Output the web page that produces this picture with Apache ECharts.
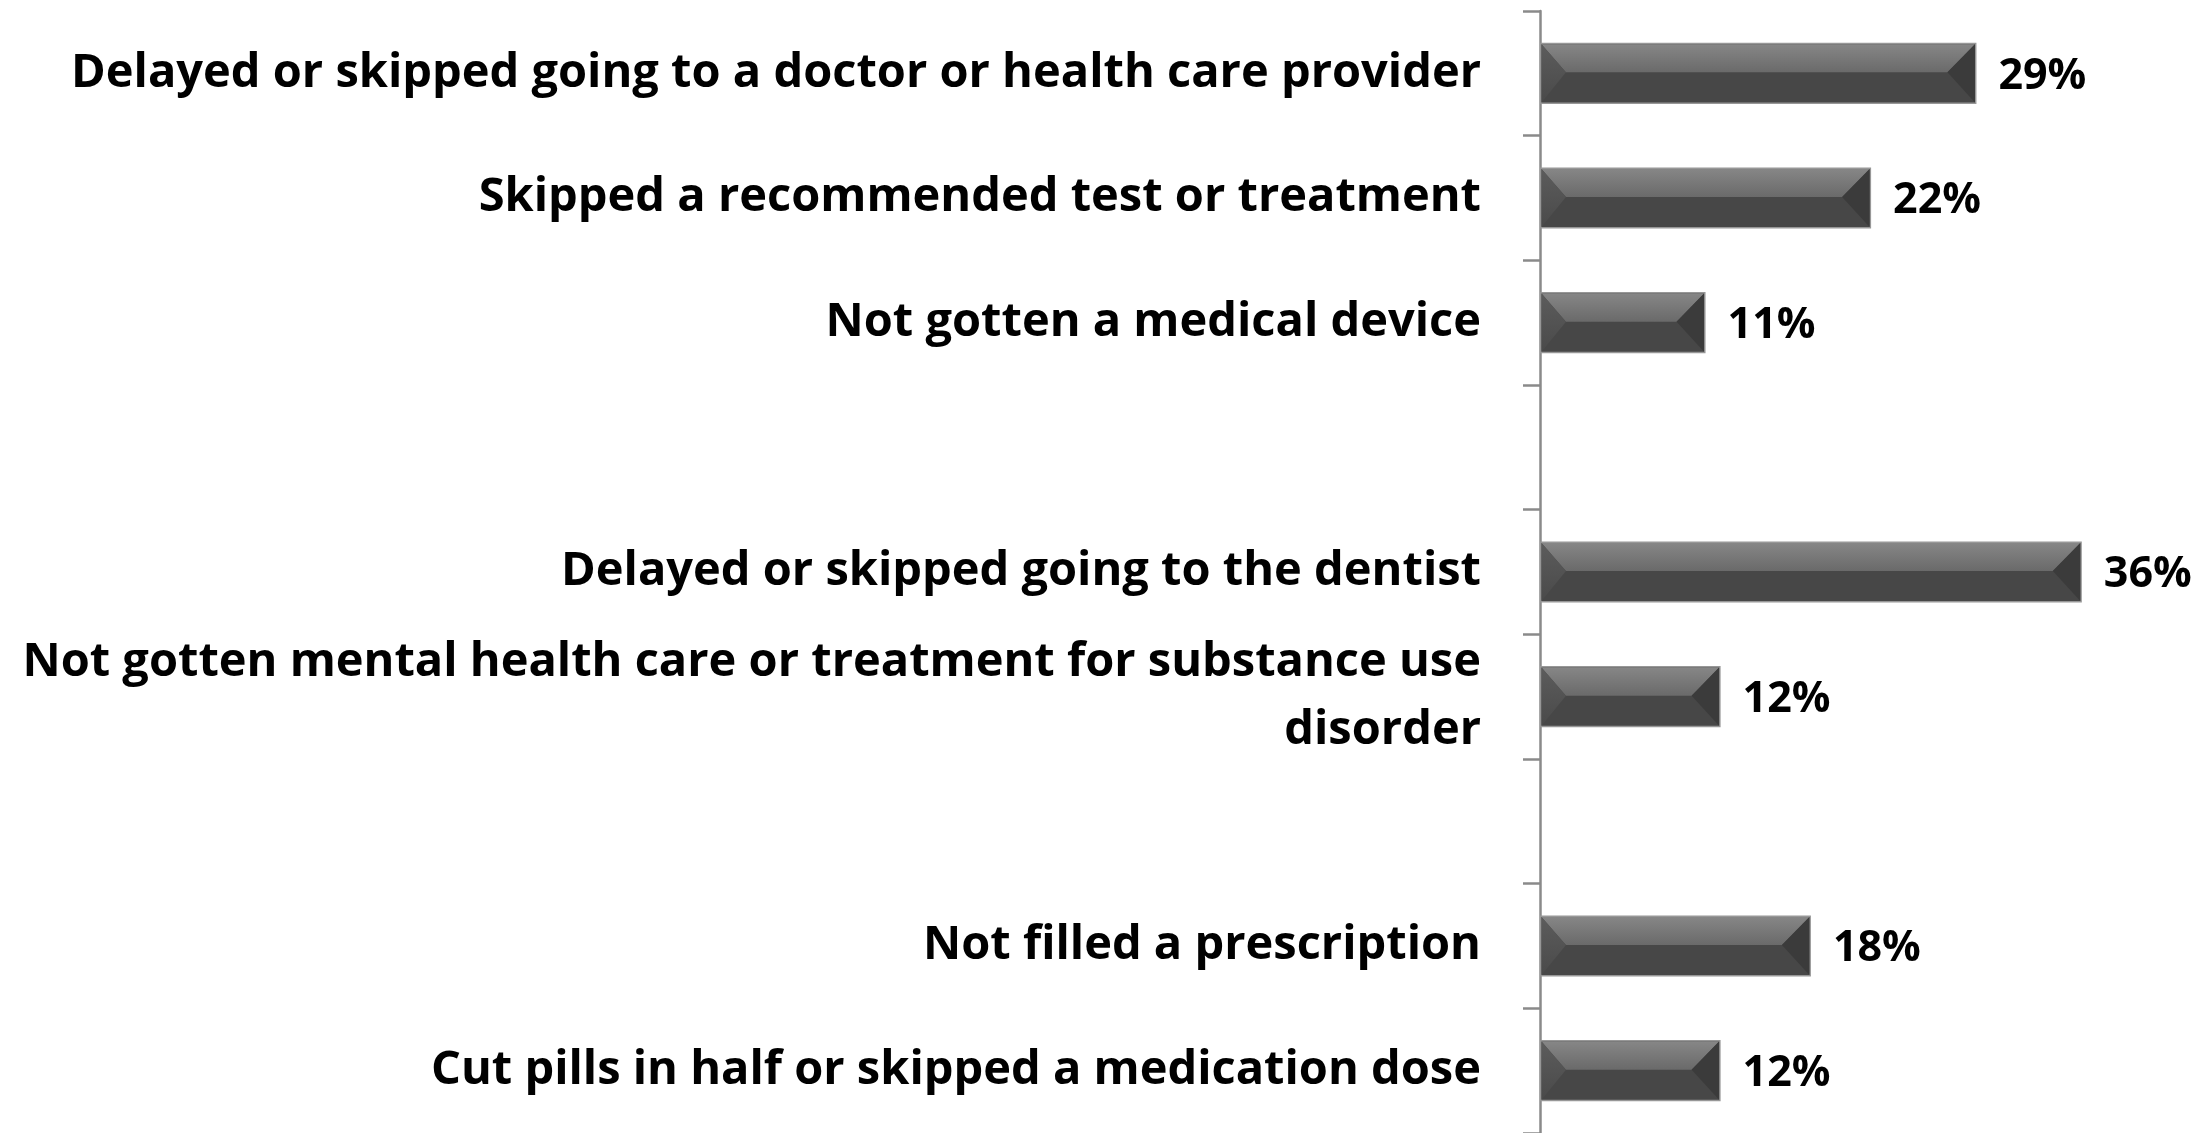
<!DOCTYPE html>
<html>
<head>
<meta charset="utf-8">
<script src="https://cdn.jsdelivr.net/npm/echarts@6/dist/echarts.min.js"></script>
<style>
  html, body { margin: 0; padding: 0; background: #ffffff; }
  #chart { width: 2201px; height: 1133px; }
</style>
</head>
<body>
<div id="chart"></div>
<script>
const categories = [
  'Delayed or skipped going to a doctor or health care provider',
  'Skipped a recommended test or treatment',
  'Not gotten a medical device',
  '',
  'Delayed or skipped going to the dentist',
  'Not gotten mental health care or treatment for substance use\ndisorder',
  '',
  'Not filled a prescription',
  'Cut pills in half or skipped a medication dose'
];
const values = [29, 22, 11, null, 36, 12, null, 18, 12];

const FONT = '"Open Sans", Lato, sans-serif';
const chart = echarts.init(document.getElementById('chart'), null, { renderer: 'canvas' });

const barData = values.map(v => (v == null ? '-' : v));
const bevelData = values.map((v, i) => [v == null ? NaN : v, i]);

const option = {
  backgroundColor: '#ffffff',
  animation: false,
  grid: { left: 1540, right: 59, top: 11, bottom: 0, containLabel: false },
  xAxis: {
    type: 'value', min: 0, max: 40, show: false,
    splitLine: { show: false }
  },
  yAxis: {
    type: 'category',
    inverse: true,
    data: categories,
    axisLine: { show: true, lineStyle: { color: '#8a8a8a', width: 2.5 } },
    axisTick: { show: true, length: 17, lineStyle: { color: '#8a8a8a', width: 2.5 } },
    axisLabel: {
      color: '#000000', fontFamily: FONT, fontWeight: 'bold', fontSize: 47,
      margin: 59, lineHeight: 68, align: 'right'
    },
    splitLine: { show: false }
  },
  series: [
    {
      type: 'bar',
      data: barData,
      barWidth: '49%',
      itemStyle: { color: '#474747', borderColor: '#979797', borderWidth: 1.5 },
      label: {
        show: true, position: 'right', distance: 22, offset: [0, 3],
        formatter: p => p.value + '%',
        color: '#000000', fontFamily: FONT, fontWeight: 'bold', fontSize: 43
      },
      z: 2
    },
    {
      type: 'custom',
      data: bevelData,
      encode: { x: 0, y: 1 },
      silent: true,
      z: 3,
      renderItem: function (params, api) {
        const v = api.value(0);
        if (v == null || isNaN(v)) return null;
        const c = api.value(1);
        const s = api.coord([0, c]);
        const e = api.coord([v, c]);
        const band = api.size([0, 1])[1];
        const h = band * 0.49;
        const x0 = s[0] + 1.5, x1 = e[0] - 1.5;
        const yT = s[1] - h / 2 + 1.5, yB = s[1] + h / 2 - 1.5, yM = s[1] - 1;
        const insL = h * 0.40, insR = h * 0.45;
        return {
          type: 'group',
          children: [
            {
              type: 'polygon',
              shape: { points: [[x0, yT], [x1, yT], [x1 - insR, yM], [x0 + insL, yM]] },
              style: {
                fill: new echarts.graphic.LinearGradient(0, 0, 0, 1, [
                  { offset: 0, color: '#868686' },
                  { offset: 1, color: '#6a6a6a' }
                ])
              }
            },
            {
              type: 'polygon',
              shape: { points: [[x0, yT], [x0 + insL, yM], [x0, yB]] },
              style: {
                fill: new echarts.graphic.LinearGradient(0, 0, 0, 1, [
                  { offset: 0, color: '#5c5c5c' },
                  { offset: 1, color: '#4a4a4a' }
                ])
              }
            },
            {
              type: 'polygon',
              shape: { points: [[x1, yT], [x1 - insR, yM], [x1, yB]] },
              style: { fill: '#3b3b3b' }
            }
          ]
        };
      }
    }
  ]
};
chart.setOption(option);
</script>
</body>
</html>
